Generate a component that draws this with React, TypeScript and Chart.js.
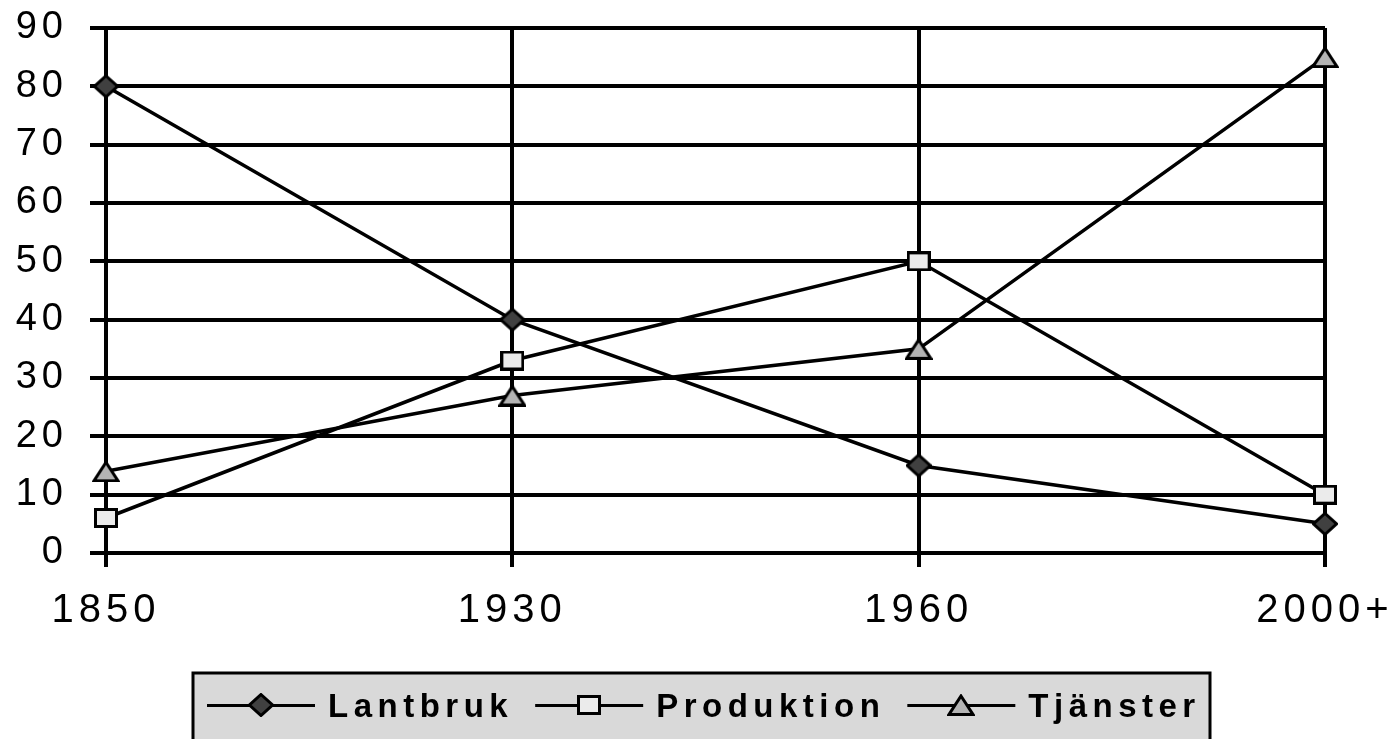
import React, { useEffect, useRef } from "react";
import { Chart, registerables } from "chart.js";

Chart.register(...registerables);

const categories = ["1850", "1930", "1960", "2000+"];
const seriesNames = ["Lantbruk", "Produktion", "Tjänster"];
const lantbruk = [80, 40, 15, 5];
const produktion = [6, 33, 50, 10];
const tjanster = [14, 27, 35, 85];
const yMin = 0;
const yMax = 90;
const yStep = 10;

const FAMILY = "'Liberation Sans', Arial, Helvetica, sans-serif";

function makeMarker(kind: string, fill: string): HTMLCanvasElement {
  const c = document.createElement("canvas");
  let w = 24, h = 24;
  if (kind === "diamond") { w = 26; h = 24; }
  if (kind === "square") { w = 24; h = 20; }
  if (kind === "triangle") { w = 28; h = 22; }
  c.width = w;
  c.height = h;
  const ctx = c.getContext("2d")!;
  ctx.fillStyle = fill;
  ctx.strokeStyle = "#000";
  ctx.lineWidth = 3;
  ctx.lineJoin = "miter";
  ctx.beginPath();
  if (kind === "diamond") {
    ctx.moveTo(w / 2, 1.5);
    ctx.lineTo(w - 1.5, h / 2);
    ctx.lineTo(w / 2, h - 1.5);
    ctx.lineTo(1.5, h / 2);
    ctx.closePath();
  } else if (kind === "square") {
    ctx.rect(1.5, 1.5, w - 3, h - 3);
  } else {
    ctx.moveTo(w / 2, 2);
    ctx.lineTo(w - 2, h - 1.5);
    ctx.lineTo(2, h - 1.5);
    ctx.closePath();
  }
  ctx.fill();
  ctx.stroke();
  return c;
}

const spacingPlugin = {
  id: "letterSpacing",
  beforeUpdate(chart: any) {
    chart.ctx.letterSpacing = "5px";
  },
  beforeRender(chart: any) {
    chart.ctx.letterSpacing = "5px";
  },
};

const legendPlugin = {
  id: "boxLegend",
  afterDraw(chart: any) {
    const ctx = chart.ctx as CanvasRenderingContext2D;
    ctx.save();
    const left = 193, top = 673, right = 1210, bottom = chart.height + 10;
    ctx.fillStyle = "#d9d9d9";
    ctx.fillRect(left, top, right - left, bottom - top);
    ctx.lineWidth = 3;
    ctx.strokeStyle = "#000";
    ctx.strokeRect(left, top, right - left, bottom - top);
    ctx.font = `bold 33px ${FAMILY}`;
    (ctx as any).letterSpacing = "5.5px";
    ctx.textBaseline = "alphabetic";
    ctx.textAlign = "left";
    const cy = 705;
    let x = 207;
    chart.data.datasets.forEach((ds: any) => {
      ctx.beginPath();
      ctx.lineWidth = 3;
      ctx.strokeStyle = "#000";
      ctx.moveTo(x, cy + 0.5);
      ctx.lineTo(x + 108, cy + 0.5);
      ctx.stroke();
      const img = ds.pointStyle as HTMLCanvasElement;
      ctx.drawImage(img, Math.round(x + 54 - img.width / 2), Math.round(cy - img.height / 2));
      const tx = x + 108 + 13;
      ctx.fillStyle = "#000";
      ctx.fillText(ds.label, tx, 717);
      x = tx + ctx.measureText(ds.label).width + 22;
    });
    ctx.restore();
  },
};

export default function App() {
  const ref = useRef<HTMLCanvasElement | null>(null);

  useEffect(() => {
    if (!ref.current) return;
    const markers = [
      makeMarker("diamond", "#404040"),
      makeMarker("square", "#ebebeb"),
      makeMarker("triangle", "#b4b4b4"),
    ];
    const values = [lantbruk, produktion, tjanster];
    const chart = new Chart(ref.current, {
      type: "line",
      data: {
        labels: categories,
        datasets: seriesNames.map((name, i) => ({
          label: name,
          data: values[i],
          borderColor: "#000",
          borderWidth: 3.5,
          backgroundColor: "#000",
          pointStyle: markers[i] as any,
          pointRadius: 10,
          pointHoverRadius: 10,
          tension: 0,
          fill: false,
          clip: false as any,
        })),
      },
      options: {
        responsive: false,
        animation: false,
        events: [],
        layout: { padding: { top: 28, right: 68, left: 0, bottom: 0 } },
        plugins: {
          legend: { display: false },
          tooltip: { enabled: false },
        },
        scales: {
          x: {
            type: "category",
            offset: false,
            grid: {
              color: "#000",
              lineWidth: 4,
              drawTicks: true,
              tickLength: 14,
              tickWidth: 4,
              tickColor: "#000",
            },
            border: { display: true, color: "#000", width: 4 },
            ticks: {
              color: "#000",
              font: { family: FAMILY, size: 40 },
              padding: 20,
              maxRotation: 0,
              autoSkip: false,
            },
            afterFit: (s: any) => {
              s.height = 186;
              s.paddingLeft = 0;
              s.paddingRight = 0;
            },
          },
          y: {
            min: yMin,
            max: yMax,
            grid: {
              color: "#000",
              lineWidth: 4,
              drawTicks: true,
              tickLength: 16,
              tickWidth: 4,
              tickColor: "#000",
            },
            border: { display: true, color: "#000", width: 4 },
            ticks: {
              stepSize: yStep,
              color: "#000",
              font: { family: FAMILY, size: 38 },
              padding: 22,
            },
            afterFit: (s: any) => {
              s.width = 106;
              s.paddingTop = 0;
              s.paddingBottom = 0;
            },
          },
        },
      },
      plugins: [spacingPlugin, legendPlugin],
    });
    return () => chart.destroy();
  }, []);

  return (
    <div style={{ position: "absolute", left: 0, top: 0, width: 1393, height: 739, background: "#fff" }}>
      <canvas ref={ref} width={1393} height={739} style={{ display: "block", width: 1393, height: 739 }} />
    </div>
  );
}
